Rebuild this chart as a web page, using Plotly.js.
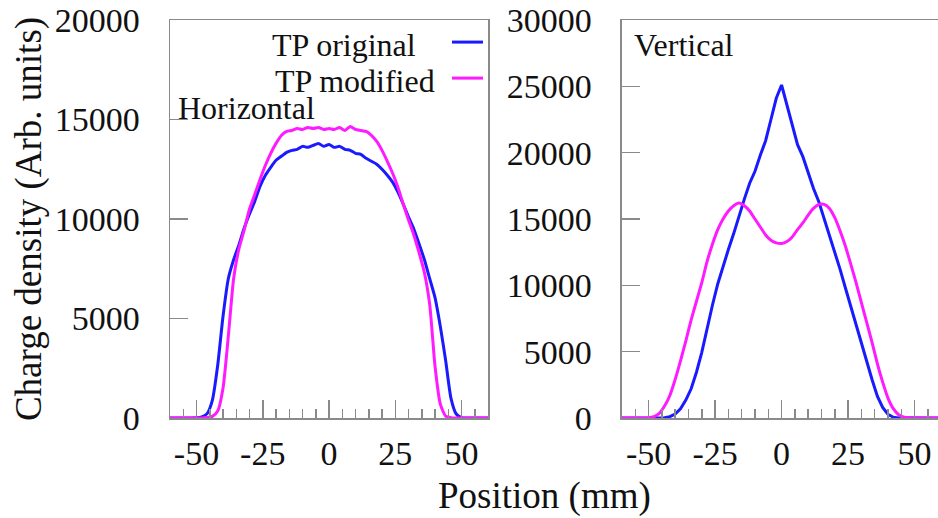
<!DOCTYPE html>
<html>
<head>
<meta charset="utf-8">
<script src="https://cdn.plot.ly/plotly-3.0.1.min.js"></script>
<style>html,body{margin:0;padding:0;background:#fff;}#chart{width:938px;height:518px;}</style>
</head>
<body>
<div id="chart"></div>
<script>
// Position grid (mm)
const xH = [-60,-58,-56,-54,-52,-50,-48,-46,-44,-42,-40,-38,-36,-34,-32,-30,-28,-26,-24,-22,-20,-18,-16,-14,-12,-10,-8,-6,-4,-2,0,2,4,6,8,10,12,14,16,18,20,22,24,26,28,30,32,34,36,38,40,42,44,46,48,50,52,54,56,58,60];
const xV = [-60,-58,-56,-54,-52,-50,-48,-46,-44,-42,-40,-38,-36,-34,-32,-30,-28,-26,-24,-22,-20,-18,-16,-14,-12,-10,-8,-6,-4,-2,0,2,4,6,8,10,12,14,16,18,20,22,24,26,28,30,32,34,36,38,40,42,44,46,48,50,52,54,56,58,60];

// Horizontal profile
const hOriginal = [0,0,0,0,0,10,60,220,900,2650,5100,7000,7950,8700,9550,10250,10900,11650,12200,12600,12950,13150,13350,13450,13500,13650,13600,13700,13800,13650,13750,13600,13650,13500,13450,13300,13250,13050,12900,12750,12500,12200,11850,11350,10750,10100,9500,8750,7950,7000,6050,4600,2900,1000,200,20,0,0,0,0,0];
const hModified = [0,0,0,0,0,0,0,20,80,350,1500,4100,7000,8500,9450,10500,11250,12000,12700,13300,13800,14200,14400,14450,14550,14500,14600,14550,14600,14500,14550,14500,14600,14450,14650,14500,14450,14400,14200,13900,13450,12900,12300,11600,10750,9950,9200,8300,7300,5700,2600,700,100,20,0,0,0,0,0,0,0];

// Vertical profile
const vOriginal = [0,0,0,0,0,0,0,0,20,100,300,700,1350,2200,3450,4950,6800,8500,10100,11500,12700,13900,15300,16500,17700,18600,19800,20900,22500,24100,25100,23600,21900,20600,19700,18500,17300,16300,15050,13800,12500,11200,9800,8400,7200,5700,4300,2900,1650,800,280,60,10,0,0,0,0,0,0,0,0];
const vModified = [0,0,0,0,0,20,100,350,900,1700,2900,4300,5800,7400,8800,10200,11800,13100,14200,15000,15600,16000,16200,16000,15600,15000,14400,13800,13400,13200,13150,13300,13650,14200,14700,15300,15800,16100,16100,15800,15100,14100,12950,11600,10200,8700,7200,5700,4100,2700,1500,700,250,60,10,0,0,0,0,0,0];

// Tick labels
const xTickVals = [-50, -25, 0, 25, 50];
const xTickText = ['-50', '-25', '0', '25', '50'];
const yTickValsH = [0, 5000, 10000, 15000, 20000];
const yTickTextH = ['0', '5000', '10000', '15000', '20000'];
const yTickValsV = [0, 5000, 10000, 15000, 20000, 25000, 30000];
const yTickTextV = ['0', '5000', '10000', '15000', '20000', '25000', '30000'];

const seriesNames = ['TP original', 'TP modified'];
const panelLabels = ['Horizontal', 'Vertical'];
const colors = ['#1a1aff', '#ff1aff'];

const FONT = 'Liberation Serif, Times New Roman, serif';
const AX = '#8a8a8a';
const LW = 3;

const traces = [
  {x: xH, y: hOriginal, xaxis: 'x', yaxis: 'y', name: seriesNames[0], mode: 'lines', line: {color: colors[0], width: LW, shape: 'spline', smoothing: 0.6}, showlegend: false},
  {x: xH, y: hModified, xaxis: 'x', yaxis: 'y', name: seriesNames[1], mode: 'lines', line: {color: colors[1], width: LW, shape: 'spline', smoothing: 0.6}, showlegend: false},
  {x: xV, y: vOriginal, xaxis: 'x2', yaxis: 'y2', name: seriesNames[0], mode: 'lines', line: {color: colors[0], width: LW}, showlegend: false},
  {x: xV, y: vModified, xaxis: 'x2', yaxis: 'y2', name: seriesNames[1], mode: 'lines', line: {color: colors[1], width: LW, shape: 'spline', smoothing: 0.5}, showlegend: false}
];

function xax(domain, range, anchor) {
  return {
    domain: domain, range: range, anchor: anchor,
    tickmode: 'array', tickvals: xTickVals, ticktext: xTickText,
    ticks: 'inside', ticklen: 18, tickwidth: 1.5, tickcolor: AX,
    minor: {tickmode: 'linear', tick0: 0, dtick: 5, ticks: 'inside', ticklen: 9, tickwidth: 1.5, tickcolor: AX},
    showline: true, linecolor: AX, linewidth: 1.5, mirror: true,
    showgrid: false, zeroline: false,
    tickfont: {family: FONT, size: 34, color: '#111'},
    ticklabelstandoff: 5
  };
}
function yax(range, anchor, mirror, vals, text) {
  return {
    domain: [0, 1], range: range, anchor: anchor,
    tickmode: 'array', tickvals: vals, ticktext: text,
    ticks: 'inside', ticklen: 18, tickwidth: 1.5, tickcolor: AX,
    showline: true, linecolor: AX, linewidth: 1.5, mirror: mirror,
    showgrid: false, zeroline: false,
    tickfont: {family: FONT, size: 34, color: '#111'},
    ticklabelstandoff: 22
  };
}

const layout = {
  width: 938, height: 518,
  margin: {l: 170, r: 0, t: 20, b: 100},
  paper_bgcolor: '#fff', plot_bgcolor: '#fff',
  font: {family: FONT, color: '#111'},
  showlegend: false,
  xaxis: xax([0, 0.4141], [-60, 60], 'y'),
  yaxis: Object.assign(yax([0, 20000], 'x', true, yTickValsH, yTickTextH), {
    title: {text: 'Charge density (Arb. units)', font: {family: FONT, size: 37, color: '#111'}, standoff: 2}
  }),
  xaxis2: xax([0.5885, 1], [-60, 58.8], 'y2'),
  yaxis2: yax([0, 30000], 'x2', false, yTickValsV, yTickTextV),
  annotations: [
    {xref: 'paper', yref: 'paper', x: 0.488, y: -0.195, xanchor: 'center', yanchor: 'middle',
     text: 'Position (mm)', showarrow: false, font: {family: FONT, size: 37, color: '#111'}},
    {xref: 'x', yref: 'y', x: 33.6, y: 18750, xanchor: 'right', yanchor: 'middle',
     text: seriesNames[0], showarrow: false, font: {family: FONT, size: 32, color: '#111'}},
    {xref: 'x', yref: 'y', x: 40.8, y: 16950, xanchor: 'right', yanchor: 'middle',
     text: seriesNames[1], showarrow: false, font: {family: FONT, size: 32, color: '#111'}},
    {xref: 'x', yref: 'y', x: -57.6, y: 15600, xanchor: 'left', yanchor: 'middle',
     text: panelLabels[0], showarrow: false, font: {family: FONT, size: 32, color: '#111'}},
    {xref: 'x2', yref: 'y2', x: -56.2, y: 28100, xanchor: 'left', yanchor: 'middle',
     text: panelLabels[1], showarrow: false, font: {family: FONT, size: 32, color: '#111'}}
  ],
  shapes: [
    {type: 'line', xref: 'x', yref: 'y', x0: 46.4, x1: 58.1, y0: 18890, y1: 18890, line: {color: colors[0], width: LW}},
    {type: 'line', xref: 'x', yref: 'y', x0: 46.4, x1: 58.1, y0: 17080, y1: 17080, line: {color: colors[1], width: LW}}
  ]
};

Plotly.newPlot('chart', traces, layout, {staticPlot: true, displayModeBar: false});
</script>
</body>
</html>
